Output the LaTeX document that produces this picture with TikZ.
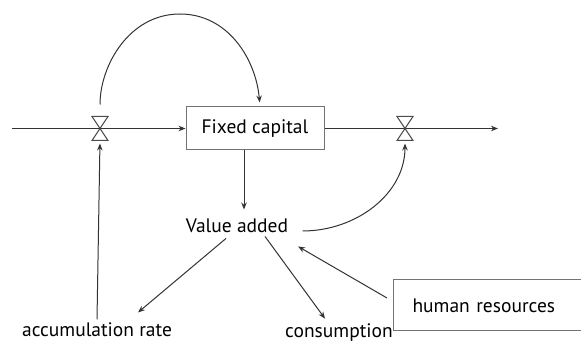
\documentclass[tikz,border=0pt]{standalone}
\usepackage{fontspec}
\setmainfont{PT Sans}
\usetikzlibrary{arrows.meta}

\tikzset{
  % ----- boxes for stocks and outside inputs
  stock/.style = {rectangle, draw=black!55, line width=1pt,
    minimum width=138, minimum height=43},
  % ----- valves on the flow line (bowtie drawn later)
  valve/.style = {minimum width=15, minimum height=23, inner sep=0},
  % ----- plain text variables
  annot/.style = {inner sep=3pt}
}

\begin{document}
\begin{tikzpicture}[
    > = {Stealth[length=7pt, width=5.5pt]}, % arrow head style
    x = 1pt, y = 1pt, % one unit per pixel
    line width = 1pt,
    font = \fontsize{19.5}{23}\selectfont
  ]
  \useasboundingbox (0,0) rectangle (581,-344);

  % stock, valves and the ends of the flow line
  \node[stock] (fc) at (255,-128.5) {Fixed capital};
  \node[valve] (v1) at (100,-128.5) {};
  \node[valve] (v2) at (405,-128.5) {};
  \coordinate (in) at (12,-128.5);
  \coordinate (out) at (498,-128.5);
  \coordinate (top) at (180,-14);

  % variables
  \node[annot] (va) at (237,-226) {Value added};
  \node[annot] (acc) at (97,-330) {accumulation rate};
  \node[annot] (cons) at (339,-333) {consumption};
  \node[stock, anchor=west, align=left, text width=160pt, inner xsep=19pt,
    minimum height=51] (hr) at (393,-305.5) {human resources};

  % flow line
  \draw[->, black!80] (in) -- (fc.west);
  \draw[->, black!80] (fc.east) -- (out);
  \foreach \v in {v1,v2}{
    \draw[black!70] (\v.north west) -- (\v.north east)
      -- (\v.south west) -- (\v.south east) -- cycle;
  }

  % links
  \draw[->, black!80, shorten <=12pt, shorten >=4pt] (v1.north)
    to[out=90, in=180] (top) to[out=0, in=95] ([xshift=5pt]fc.north);
  \draw[->, black!80] ([xshift=-11pt]fc.south) -- ++(0,-59);
  \draw[->, black!80, shorten >=3pt] ([xshift=11pt,yshift=-5pt]va.east)
    to[out=0, in=-90] (v2.south);
  \draw[->, black!80] ([xshift=-11pt,yshift=-2pt]va.south) -- ([xshift=41pt,yshift=7pt]acc.north);
  \draw[->, black!80] ([xshift=28pt]va.south) -- ([xshift=-14pt,yshift=2pt]cons.north);
  \draw[->, black!80] ([xshift=-6pt,yshift=7.5pt]hr.west) -- ([xshift=6.5pt,yshift=-10pt]va.south east);
  \draw[->, black!80, shorten >=3pt] (acc.north) -- (v1.south);
\end{tikzpicture}
\end{document}
